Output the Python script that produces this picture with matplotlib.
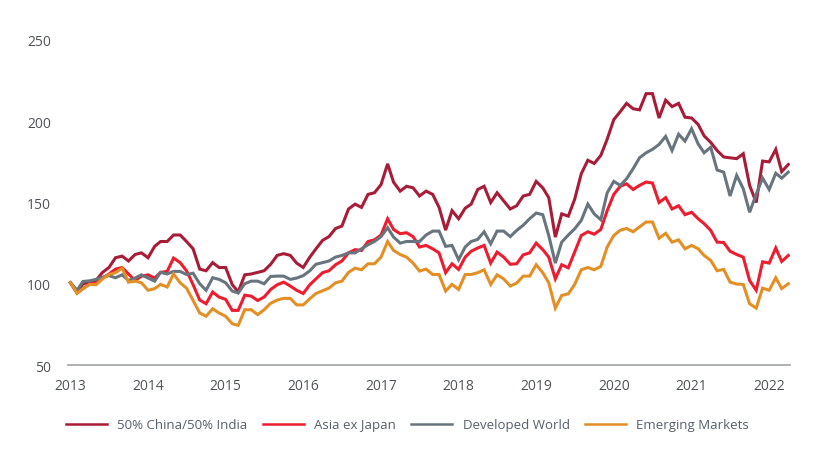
import matplotlib
matplotlib.use('Agg')
import matplotlib.pyplot as plt
import matplotlib.dates as mdates
import pandas as pd

plt.rcParams['font.family'] = ['Open Sans', 'DejaVu Sans']

dates = pd.date_range('2013-01-01', periods=112, freq='MS')

china_india = [100.6, 95, 100, 101, 102, 107, 110, 116, 117, 114, 118, 119, 116, 123, 126, 126,
               130, 130, 126, 121.5, 109, 108, 113, 110, 110, 99.5, 95, 105.5, 106, 107, 108, 112,
               117.5, 118.5, 117.5, 112.7, 110, 116.4, 121.5, 126.7, 129, 134, 135.5, 146, 149, 147, 155, 156,
               161, 173.8, 162.5, 157, 160, 159, 154, 157, 155, 147, 133, 145, 140, 146.5, 149, 158,
               160, 150, 156, 151, 146, 148, 154, 155, 163, 159, 153, 128.7, 143, 141.6, 152, 167.7,
               176, 174, 179, 189, 201, 206, 211, 207.7, 207, 217, 217, 202, 213, 209, 211, 202.5,
               202, 198, 191, 187, 182, 178, 177.5, 177, 180, 160.5, 150, 175.5, 175, 182.7, 169, 173.4]

asia_ex_japan = [100.6, 94.5, 97, 100, 100, 103.5, 106, 109, 110, 106, 102, 104.7, 105.5, 103.5, 107, 107.6,
                 115.8, 113, 108, 99.4, 90, 87.7, 94.9, 91.8, 90.4, 83.6, 83.6, 93, 92.4, 89.7, 91.8, 96.5,
                 99.4, 101, 98.6, 96, 94, 99.4, 103, 106.8, 108, 111.7, 114, 119, 121, 120.5, 126, 127,
                 130, 140, 133.4, 130.8, 131.4, 129, 122.6, 123.6, 121.5, 119, 106.8, 112.3, 108.8, 116.4, 120, 122,
                 123.6, 112.7, 119.5, 116.4, 112, 112.3, 117.8, 119, 125, 121, 116.4, 103, 111.7, 109.8, 119.5, 129.7,
                 132, 130.5, 133.4, 145, 155, 160, 161.5, 158, 160.5, 162.6, 162, 150, 153, 146, 148, 142.5,
                 144, 140, 137, 132.8, 125.6, 125.4, 120, 118, 116.4, 102, 96, 113.5, 112.7, 122, 113.7, 117.4]

developed_world = [100.6, 96, 101.4, 101.8, 102.7, 104, 105, 103.7, 105.5, 102, 103.5, 105.5, 103.5, 101.6, 107, 106,
                   107.6, 107.6, 105.7, 106.5, 100, 96, 103.7, 102.7, 100.6, 95.5, 94.3, 100, 101.6, 101.6, 100, 104.5,
                   104.7, 104.7, 102.7, 103.5, 105, 108, 112, 113, 114, 116.4, 117.4, 119, 119, 121.5, 124, 126,
                   129, 134.5, 128.7, 125, 126, 126, 126, 130, 132.4, 132.4, 123, 123.6, 114.8, 122.6, 126, 127.3,
                   132, 124.6, 132.4, 132.4, 129, 132.8, 136, 140, 143.5, 142.5, 129.7, 112.7, 125.6, 130, 133.8, 139,
                   149, 143, 139.4, 156, 163, 160.5, 164.6, 170.8, 177.5, 180.6, 182.7, 185.7, 190.7, 182, 192, 187.8,
                   195.4, 186, 180.6, 184, 170, 168.7, 154, 166.7, 158.5, 144, 155, 165, 158, 168, 165, 168.7]

emerging_markets = [100.6, 94, 97, 99.6, 99.4, 103, 105.7, 106.8, 109.6, 101, 101.6, 100.6, 96, 97, 99.6, 98,
                    106, 100.6, 97.3, 89.7, 82, 80, 84.6, 82, 80, 75.4, 74.4, 84, 84, 81, 84, 88,
                    90, 91, 91, 87, 87, 90.8, 94, 95.7, 97.3, 100.6, 101.6, 107, 109.6, 108.6, 112.3, 112.3,
                    116.4, 126, 120.5, 118, 116.4, 112.7, 107.8, 109, 105.7, 105.7, 95.5, 99.6, 96.5, 105.7, 105.7, 106.8,
                    108.6, 99.6, 105.5, 103, 98.6, 100.4, 104.7, 104.7, 111.7, 106.8, 100.6, 85, 92.8, 93.8, 99.6, 108.6,
                    110, 108.6, 110.7, 122.6, 129.7, 133, 134, 132, 135, 138, 138, 128, 131, 125.6, 127, 121.5,
                    123.6, 121.5, 117.4, 114.4, 108, 108.8, 101, 99.8, 99.6, 87.7, 85, 97.3, 96, 103.7, 97, 100]

series_names = ['50% China/50% India', 'Asia ex Japan', 'Developed World', 'Emerging Markets']
colors = ['#A81C38', '#ED1C2E', '#68757E', '#E38F25']
y_ticks = [50, 100, 150, 200, 250]

fig = plt.figure(figsize=(8.2, 4.64), dpi=100)
ax = fig.add_axes([67.7 / 820, 1 - 366 / 464, (790 - 67.7) / 820, (366 - 41) / 464])

# drawn in this order so orange ends up on top
all_series = [china_india, asia_ex_japan, developed_world, emerging_markets]
for vals, name, col in zip(all_series, series_names, colors):
    ax.plot(dates, vals, color=col, lw=2.2, label=name, solid_joinstyle='miter')

ax.set_ylim(50, 250)
ax.set_xlim(pd.Timestamp('2012-12-19'), pd.Timestamp('2022-04-09'))
ax.set_yticks(y_ticks)
ax.xaxis.set_major_locator(mdates.YearLocator())
ax.xaxis.set_major_formatter(mdates.DateFormatter('%Y'))

for side in ['top', 'left', 'right']:
    ax.spines[side].set_visible(False)
ax.spines['bottom'].set_color('#A7ABAE')
ax.spines['bottom'].set_linewidth(1.3)
ax.tick_params(axis='both', length=0, labelsize=10, labelcolor='#4F5357')
ax.tick_params(axis='x', pad=9.5)
ax.tick_params(axis='y', pad=12)

fig.legend(loc='lower left', bbox_to_anchor=(66 / 820, 1 - 432.5 / 464), ncol=4, frameon=False,
           fontsize=9.5, labelcolor='#56606B', handlelength=3.1, handletextpad=0.8,
           columnspacing=1.15, borderpad=0, borderaxespad=0)
for line in fig.legends[0].get_lines():
    line.set_linewidth(1.8)

fig.savefig('out.png', dpi=100)
